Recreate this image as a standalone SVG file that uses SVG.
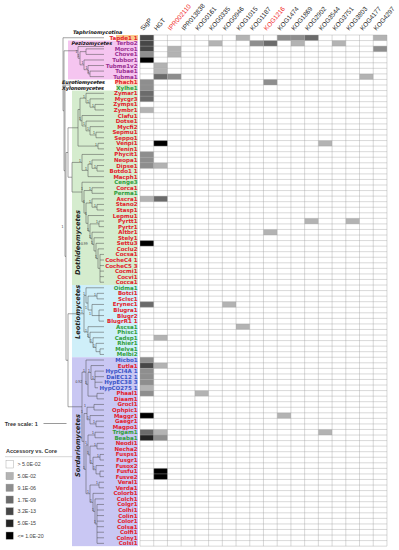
<svg xmlns="http://www.w3.org/2000/svg" width="399" height="550" viewBox="0 0 399 550">
<style>
text{font-family:"Liberation Sans",Arial,sans-serif}
.hd{font-size:6.5px;fill:#222}
.hr{fill:#f02828}
.lf{font-family:"DejaVu Sans",sans-serif;font-size:5.5px;font-weight:bold;text-anchor:end}
.r{fill:#e4202c}.g{fill:#2f9e3c}.b{fill:#3a55c8}.m{fill:#9a2e90}
.cl{font-family:"DejaVu Sans",sans-serif;font-size:4.9px;font-weight:bold;font-style:italic;fill:#111}
.vl{font-family:"DejaVu Sans",sans-serif;font-size:6.6px;font-weight:bold;font-style:italic;fill:#222}
.br{fill:none;stroke:#4a4a4a;stroke-width:0.5}
.sv{font-size:3.4px;fill:#333}
.s1{fill:#b3b3b3}.s2{fill:#8e8e8e}.s3{fill:#6b6b6b}.s4{fill:#474747}.s5{fill:#242424}.s6{fill:#000}
.gl{fill:none;stroke:#a0a0a0;stroke-width:0.4}
.lg{font-size:5.3px;fill:#444}
.lb{stroke:#999;stroke-width:0.4}
</style>
<rect width="399" height="550" fill="#fff"/>
<g id="bands">
<rect x="68" y="40.56" width="70" height="38.89" fill="#f5c5f0"/>
<rect x="72" y="90.56" width="66" height="194.46" fill="#d5ecce"/>
<rect x="72" y="285.02" width="66" height="72.23" fill="#cfeff9"/>
<rect x="72" y="357.25" width="66" height="188.9" fill="#c9c7f3"/>
<rect x="116" y="35" width="22" height="5.56" fill="#f9c98c"/>
<rect x="116" y="79.45" width="22" height="5.56" fill="#fbd8bc"/>
<rect x="116" y="85" width="22" height="5.56" fill="#d2ebc9"/>
</g>
<g id="class-labels">
<text class="cl" x="73" y="33.6">Taphrinomycotina</text>
<text class="cl" x="71.5" y="44.6">Pezizomycetes</text>
<text class="cl" x="62" y="84">Eurotiomycetes</text>
<text class="cl" x="62" y="89.6">Xylonomycetes</text>
<text class="vl" transform="translate(79.5 275) rotate(-90)">Dothideomycetes</text>
<text class="vl" transform="translate(79.5 339) rotate(-90)">Leotiomycetes</text>
<text class="vl" transform="translate(79.5 477) rotate(-90)">Sordariomycetes</text>
</g>
<g id="connectors">
<path class="br" d="M63 37.75V110.74M63 37.75H104M63 110.74H64
M64 50.78V170.69M64 50.78H78M64 170.69H65
M78 46.5V58.24M78 46.5H104M78 58.24H80
M80 51.64V64.84M80 51.64H86M80 64.84H84
M86 48.86V54.42M86 48.86H104M86 54.42H104
M84 59.97V69.7M84 59.97H104M84 69.7H88
M88 65.53V73.87M88 65.53H104M88 73.87H90
M90 71.09V76.64M90 71.09H104M90 76.64H104
M65 84.98V256.39M65 84.98H70M65 256.39H66
M70 82.2V87.75M70 82.2H104M70 87.75H104
M66 152.51V360.26M66 152.51H68M66 360.26H68
M68 127.78V177.23M68 127.78H78M68 177.23H72
M78 109.47V146.09M78 109.47H80M78 146.09H98
M80 98.18V120.75M80 98.18H86M80 120.75H82
M86 93.31V103.04M86 93.31H104M86 103.04H90
M90 98.87V107.2M90 98.87H104M90 107.2H95
M95 104.42V109.98M95 104.42H104M95 109.98H104
M82 115.53V125.96M82 115.53H104M82 125.96H86
M86 121.09V130.82M86 121.09H104M86 130.82H90
M90 126.65V134.98M90 126.65H104M90 134.98H96
M96 132.2V137.76M96 132.2H104M96 137.76H104
M98 143.31V148.87M98 143.31H104M98 148.87H104
M72 162.42V192.04M72 162.42H82M72 192.04H82
M82 154.43V170.4M82 154.43H104M82 170.4H88
M88 164.15V176.65M88 164.15H92M88 176.65H104
M92 159.98V168.32M92 159.98H104M92 168.32H97
M97 165.54V171.09M97 165.54H104M97 171.09H104
M82 182.21V201.86M82 182.21H104M82 201.86H84
M84 190.54V213.18M84 190.54H92M84 213.18H86
M92 187.76V193.32M92 187.76H104M92 193.32H104
M86 203.04V223.32M86 203.04H92M86 223.32H88
M92 198.87V207.21M92 198.87H104M92 207.21H97
M97 204.43V209.99M97 204.43H104M97 209.99H104
M88 215.54V231.09M88 215.54H104M88 231.09H90
M90 223.88V238.29M90 223.88H99M90 238.29H92
M99 221.1V226.65M99 221.1H104M99 226.65H104
M92 232.21V244.37M92 232.21H104M92 244.37H94
M94 237.77V250.96M94 237.77H104M94 250.96H96
M96 243.32V258.6M96 243.32H104M96 258.6H98
M98 248.88V268.32M98 248.88H104M98 268.32H100
M100 254.43V282.21M100 254.43H104M100 259.99H104M100 265.55H104M100 271.1H104M100 276.66H104M100 282.21H104
M68 313.74V406.78M68 313.74H84M68 406.78H82
M84 295.42V332.05M84 295.42H86M84 332.05H88
M86 287.77V303.06M86 287.77H104M86 303.06H88
M88 296.11V310M88 296.11H97M88 310H92
M97 293.33V298.88M97 293.33H104M97 298.88H104
M92 304.44V315.55M92 304.44H104M92 315.55H99
M99 309.99V321.11M99 309.99H104M99 315.55H104M99 321.11H104
M88 326.66V337.43M88 326.66H104M88 337.43H90
M90 332.22V342.64M90 332.22H104M90 342.64H93
M93 337.77V347.5M93 337.77H104M93 347.5H96
M96 343.33V351.67M96 343.33H104M96 351.67H100
M100 348.89V354.44M100 348.89H104M100 354.44H104
M82 372.16V441.39M82 372.16H86M82 441.39H84
M86 360V384.31M86 360H104M86 384.31H88
M88 372.5V396.11M88 372.5H91M88 396.11H97
M91 365.55V379.45M91 365.55H104M91 379.45H95
M95 371.11V387.78M95 371.11H104M95 376.67H104M95 382.22H102.5M95 387.78H98
M97 393.33V398.89M97 393.33H104M97 398.89H104
M84 413.48V469.3M84 413.48H87M84 469.3H86
M87 407.23V419.73M87 407.23H94M87 419.73H90
M94 404.45V410M94 404.45H104M94 410H104
M90 415.56V423.89M90 415.56H104M90 423.89H96
M96 421.11V426.67M96 421.11H104M96 426.67H104
M86 444.91V493.69M86 444.91H88M86 493.69H90
M88 435.01V454.8M88 435.01H95M88 454.8H90
M95 432.23V437.78M95 432.23H104M95 437.78H104
M90 446.12V463.48M90 446.12H97M90 463.48H93
M97 443.34V448.89M97 443.34H104M97 448.89H104
M93 457.23V469.73M93 457.23H100M93 469.73H96
M100 454.45V460.01M100 454.45H104M100 460.01H104
M96 465.56V473.9M96 465.56H104M96 473.9H100
M100 471.12V476.67M100 471.12H104M100 476.67H104
M90 485.01V502.37M90 485.01H99M90 502.37H93
M99 482.23V487.79M99 482.23H104M99 487.79H104
M93 493.34V511.4M93 493.34H104M93 511.4H95
M95 498.9V523.9M95 498.9H104M95 523.9H97
M97 504.45V543.35M97 504.45H104M97 510.01H104M97 515.57H104M97 521.12H104M97 526.68H104M97 532.23H104M97 537.79H104M97 543.35H104"/>
<g class="sv">
<text x="75.6" y="52.6">1</text><text x="77.6" y="57.4">1</text><text x="81.5" y="64">1</text><text x="85.5" y="69">1</text><text x="87.5" y="73">1</text>
<text x="83" y="97.5">1</text><text x="87" y="102.5">1</text><text x="92" y="106.5">1</text><text x="79" y="120">1</text><text x="83" y="125.3">1</text><text x="87" y="130">1</text><text x="93" y="134.3">1</text><text x="95" y="145.5">1</text>
<text x="79" y="161.8">1</text><text x="85" y="169.7">1</text><text x="89" y="163.5">1</text><text x="94" y="167.7">1</text><text x="81" y="190.3">1</text><text x="89" y="190">1</text><text x="83" y="202.5">1</text><text x="89" y="202.5">1</text><text x="94" y="206.5">1</text><text x="85" y="214.5">1</text><text x="87" y="230.5">1</text><text x="96" y="223.3">1</text><text x="89" y="237.7">1</text><text x="91" y="243.8">1</text><text x="81" y="244.5">0.99</text><text x="95" y="258">1</text><text x="61.5" y="228">1</text>
<text x="81" y="313">1</text><text x="83" y="294.8">1</text><text x="85" y="309.4">1</text><text x="94" y="295.5">1</text><text x="89" y="315">1</text><text x="85" y="331.5">1</text><text x="87" y="336.8">1</text><text x="90" y="342">1</text><text x="93" y="347">1</text>
<text x="75.5" y="383">0.92</text><text x="83" y="371.6">1</text><text x="85" y="383.7">1</text><text x="88" y="372">1</text><text x="92" y="378.8">1</text><text x="81" y="412.8">1</text><text x="84" y="406.6">1</text><text x="87" y="419">1</text><text x="93" y="423.3">1</text><text x="83" y="468.7">1</text><text x="85" y="444.3">1</text><text x="92" y="434.4">1</text><text x="87" y="454.2">1</text><text x="94" y="445.5">1</text><text x="90" y="462.9">1</text><text x="97" y="456.6">1</text><text x="93" y="469.1">1</text><text x="87" y="493">1</text><text x="96" y="484.4">1</text><text x="90" y="501.8">1</text><text x="92" y="510.8">1</text><text x="94" y="523.3">1</text>
</g>
</g>
<g id="leaves">
<g id="n0"><text class="lf r" x="137.5" y="39.75">Tapde1 1</text></g>
<g id="n1"><text class="lf m" x="137.5" y="45.31">Terbo2</text></g>
<g id="n2"><text class="lf m" x="137.5" y="50.86">Morco1</text></g>
<g id="n3"><text class="lf m" x="137.5" y="56.42">Chove1</text></g>
<g id="n4"><text class="lf m" x="137.5" y="61.97">Tubbor1</text></g>
<g id="n5"><text class="lf m" x="137.5" y="67.53">Tubme1v2</text></g>
<g id="n6"><text class="lf m" x="137.5" y="73.09">Tubae1</text></g>
<g id="n7"><text class="lf m" x="137.5" y="78.64">Tubma1</text></g>
<g id="n8"><text class="lf r" x="137.5" y="84.2">Phach1</text></g>
<g id="n9"><text class="lf g" x="137.5" y="89.75">Xylhe1</text></g>
<g id="n10"><text class="lf r" x="137.5" y="95.31">Zymar1</text></g>
<g id="n11"><text class="lf r" x="137.5" y="100.87">Mycgr3</text></g>
<g id="n12"><text class="lf r" x="137.5" y="106.42">Zymps1</text></g>
<g id="n13"><text class="lf r" x="137.5" y="111.98">Zymbr1</text></g>
<g id="n14"><text class="lf r" x="137.5" y="117.53">Clafu1</text></g>
<g id="n15"><text class="lf r" x="137.5" y="123.09">Dotse1</text></g>
<g id="n16"><text class="lf r" x="137.5" y="128.65">Mycfi2</text></g>
<g id="n17"><text class="lf r" x="137.5" y="134.2">Sepmu1</text></g>
<g id="n18"><text class="lf r" x="137.5" y="139.76">Seppo1</text></g>
<g id="n19"><text class="lf r" x="137.5" y="145.31">Venpi1</text></g>
<g id="n20"><text class="lf r" x="137.5" y="150.87">Venin1</text></g>
<g id="n21"><text class="lf r" x="137.5" y="156.43">Phycit1</text></g>
<g id="n22"><text class="lf r" x="137.5" y="161.98">Neopa1</text></g>
<g id="n23"><text class="lf r" x="137.5" y="167.54">Dipse1</text></g>
<g id="n24"><text class="lf r" x="137.5" y="173.09">Botdo1 1</text></g>
<g id="n25"><text class="lf r" x="137.5" y="178.65">Macph1</text></g>
<g id="n26"><text class="lf g" x="137.5" y="184.21">Cenge3</text></g>
<g id="n27"><text class="lf r" x="137.5" y="189.76">Corca1</text></g>
<g id="n28"><text class="lf g" x="137.5" y="195.32">Perma1</text></g>
<g id="n29"><text class="lf r" x="137.5" y="200.87">Ascra1</text></g>
<g id="n30"><text class="lf r" x="137.5" y="206.43">Stano2</text></g>
<g id="n31"><text class="lf r" x="137.5" y="211.99">Stasp1</text></g>
<g id="n32"><text class="lf r" x="137.5" y="217.54">Lepmu1</text></g>
<g id="n33"><text class="lf r" x="137.5" y="223.1">Pyrtt1</text></g>
<g id="n34"><text class="lf r" x="137.5" y="228.65">Pyrtr1</text></g>
<g id="n35"><text class="lf r" x="137.5" y="234.21">Altbr1</text></g>
<g id="n36"><text class="lf r" x="137.5" y="239.77">Stely1</text></g>
<g id="n37"><text class="lf r" x="137.5" y="245.32">Settu3</text></g>
<g id="n38"><text class="lf r" x="137.5" y="250.88">Coclu2</text></g>
<g id="n39"><text class="lf r" x="137.5" y="256.43">Cocsa1</text></g>
<g id="n40"><text class="lf r" x="137.5" y="261.99">CocheC4 1</text></g>
<g id="n41"><text class="lf r" x="137.5" y="267.55">CocheC5 3</text></g>
<g id="n42"><text class="lf r" x="137.5" y="273.1">Cocmi1</text></g>
<g id="n43"><text class="lf r" x="137.5" y="278.66">Cocvi1</text></g>
<g id="n44"><text class="lf r" x="137.5" y="284.21">Cocca1</text></g>
<g id="n45"><text class="lf g" x="137.5" y="289.77">Oidma1</text></g>
<g id="n46"><text class="lf r" x="137.5" y="295.33">Botci1</text></g>
<g id="n47"><text class="lf r" x="137.5" y="300.88">Sclsc1</text></g>
<g id="n48"><text class="lf r" x="137.5" y="306.44">Erynec1</text></g>
<g id="n49"><text class="lf r" x="137.5" y="311.99">Blugra1</text></g>
<g id="n50"><text class="lf r" x="137.5" y="317.55">Blugr2</text></g>
<g id="n51"><text class="lf r" x="137.5" y="323.11">BlugrR1 1</text></g>
<g id="n52"><text class="lf g" x="137.5" y="328.66">Ascsa1</text></g>
<g id="n53"><text class="lf g" x="137.5" y="334.22">Phisc1</text></g>
<g id="n54"><text class="lf g" x="137.5" y="339.77">Cadsp1</text></g>
<g id="n55"><text class="lf g" x="137.5" y="345.33">Rhier1</text></g>
<g id="n56"><text class="lf g" x="137.5" y="350.89">Melva1</text></g>
<g id="n57"><text class="lf g" x="137.5" y="356.44">Melbi2</text></g>
<g id="n58"><text class="lf b" x="137.5" y="362">Micbo1</text></g>
<g id="n59"><text class="lf r" x="137.5" y="367.55">Eutla1</text></g>
<g id="n60"><text class="lf b" x="137.5" y="373.11">HypCI4A 1</text></g>
<g id="n61"><text class="lf b" x="137.5" y="378.67">DalEC12 1</text></g>
<g id="n62"><text class="lf b" x="137.5" y="384.22">HypEC38 3</text></g>
<g id="n63"><text class="lf b" x="137.5" y="389.78">HypCO275 1</text></g>
<g id="n64"><text class="lf r" x="137.5" y="395.33">Phaal1</text></g>
<g id="n65"><text class="lf r" x="137.5" y="400.89">Diaam1</text></g>
<g id="n66"><text class="lf r" x="137.5" y="406.45">Grocl1</text></g>
<g id="n67"><text class="lf r" x="137.5" y="412">Ophpic1</text></g>
<g id="n68"><text class="lf r" x="137.5" y="417.56">Maggr1</text></g>
<g id="n69"><text class="lf r" x="137.5" y="423.11">Gaegr1</text></g>
<g id="n70"><text class="lf r" x="137.5" y="428.67">Magpo1</text></g>
<g id="n71"><text class="lf g" x="137.5" y="434.23">Trigam1</text></g>
<g id="n72"><text class="lf g" x="137.5" y="439.78">Beaba1</text></g>
<g id="n73"><text class="lf r" x="137.5" y="445.34">Neodi1</text></g>
<g id="n74"><text class="lf r" x="137.5" y="450.89">Necha2</text></g>
<g id="n75"><text class="lf r" x="137.5" y="456.45">Fusps1</text></g>
<g id="n76"><text class="lf r" x="137.5" y="462.01">Fusgr1</text></g>
<g id="n77"><text class="lf r" x="137.5" y="467.56">Fusox2</text></g>
<g id="n78"><text class="lf r" x="137.5" y="473.12">Fusfu1</text></g>
<g id="n79"><text class="lf r" x="137.5" y="478.67">Fusve2</text></g>
<g id="n80"><text class="lf r" x="137.5" y="484.23">Veral1</text></g>
<g id="n81"><text class="lf r" x="137.5" y="489.79">Verda1</text></g>
<g id="n82"><text class="lf r" x="137.5" y="495.34">Colorb1</text></g>
<g id="n83"><text class="lf r" x="137.5" y="500.9">Colch1</text></g>
<g id="n84"><text class="lf r" x="137.5" y="506.45">Colgr1</text></g>
<g id="n85"><text class="lf r" x="137.5" y="512.01">Colhi1</text></g>
<g id="n86"><text class="lf r" x="137.5" y="517.57">Colin1</text></g>
<g id="n87"><text class="lf r" x="137.5" y="523.12">Color1</text></g>
<g id="n88"><text class="lf r" x="137.5" y="528.68">Colsa1</text></g>
<g id="n89"><text class="lf r" x="137.5" y="534.23">Colfi1</text></g>
<g id="n90"><text class="lf r" x="137.5" y="539.79">Colny1</text></g>
<g id="n91"><text class="lf r" x="137.5" y="545.35">Colsi1</text></g>
</g>
<g id="header">
<text class="hd" transform="translate(143.36 31) rotate(-50)">SigP</text>
<text class="hd" transform="translate(157.08 31) rotate(-50)">HGT</text>
<text class="hd hr" transform="translate(170.8 31) rotate(-50)">IPR002110</text>
<text class="hd" transform="translate(184.52 31) rotate(-50)">IPR013838</text>
<text class="hd" transform="translate(198.24 31) rotate(-50)">KOG0161</text>
<text class="hd" transform="translate(211.96 31) rotate(-50)">KOG0335</text>
<text class="hd" transform="translate(225.68 31) rotate(-50)">KOG0946</text>
<text class="hd" transform="translate(239.4 31) rotate(-50)">KOG1015</text>
<text class="hd" transform="translate(253.12 31) rotate(-50)">KOG1187</text>
<text class="hd hr" transform="translate(266.84 31) rotate(-50)">KOG1216</text>
<text class="hd" transform="translate(280.56 31) rotate(-50)">KOG1474</text>
<text class="hd" transform="translate(294.28 31) rotate(-50)">KOG1869</text>
<text class="hd" transform="translate(308 31) rotate(-50)">KOG2902</text>
<text class="hd" transform="translate(321.72 31) rotate(-50)">KOG3544</text>
<text class="hd" transform="translate(335.44 31) rotate(-50)">KOG3751</text>
<text class="hd" transform="translate(349.16 31) rotate(-50)">KOG3803</text>
<text class="hd" transform="translate(362.88 31) rotate(-50)">KOG4177</text>
<text class="hd" transform="translate(376.6 31) rotate(-50)">KOG4297</text>
</g>
<g id="heatmap">
<rect x="140" y="35" width="246.96" height="511.15" fill="#fff"/>
<g>
<rect class="s4" x="140" y="35" width="13.72" height="5.56"/><rect class="s1" x="236.04" y="35" width="13.72" height="5.56"/><rect class="s2" x="277.2" y="35" width="13.72" height="5.56"/><rect class="s2" x="290.92" y="35" width="13.72" height="5.56"/><rect class="s3" x="304.64" y="35" width="13.72" height="5.56"/><rect class="s1" x="373.24" y="35" width="13.72" height="5.56"/>
<rect class="s4" x="140" y="40.56" width="13.72" height="5.56"/><rect class="s1" x="208.6" y="40.56" width="13.72" height="5.56"/><rect class="s2" x="249.76" y="40.56" width="13.72" height="5.56"/><rect class="s3" x="263.48" y="40.56" width="13.72" height="5.56"/><rect class="s1" x="290.92" y="40.56" width="13.72" height="5.56"/><rect class="s1" x="332.08" y="40.56" width="13.72" height="5.56"/>
<rect class="s4" x="140" y="46.11" width="13.72" height="5.56"/><rect class="s1" x="167.44" y="46.11" width="13.72" height="5.56"/><rect class="s2" x="373.24" y="46.11" width="13.72" height="5.56"/>
<rect class="s2" x="140" y="51.67" width="13.72" height="5.56"/><rect class="s1" x="167.44" y="51.67" width="13.72" height="5.56"/>
<rect class="s6" x="140" y="57.22" width="13.72" height="5.56"/>
<rect class="s1" x="153.72" y="62.78" width="13.72" height="5.56"/>
<rect class="s1" x="153.72" y="68.34" width="13.72" height="5.56"/>
<rect class="s3" x="153.72" y="73.89" width="13.72" height="5.56"/><rect class="s2" x="167.44" y="73.89" width="13.72" height="5.56"/><rect class="s1" x="359.52" y="73.89" width="13.72" height="5.56"/>
<rect class="s2" x="140" y="79.45" width="13.72" height="5.56"/><rect class="s2" x="263.48" y="79.45" width="13.72" height="5.56"/>
<rect class="s2" x="140" y="85" width="13.72" height="5.56"/>
<rect class="s3" x="140" y="90.56" width="13.72" height="5.56"/>
<rect class="s3" x="140" y="96.12" width="13.72" height="5.56"/>
<rect class="s1" x="140" y="107.23" width="13.72" height="5.56"/>
<rect class="s6" x="153.72" y="140.56" width="13.72" height="5.56"/><rect class="s1" x="318.36" y="140.56" width="13.72" height="5.56"/>
<rect class="s2" x="140" y="151.68" width="13.72" height="5.56"/><rect class="s2" x="140" y="157.23" width="13.72" height="5.56"/><rect class="s2" x="140" y="162.79" width="13.72" height="5.56"/><rect class="s1" x="153.72" y="162.79" width="13.72" height="5.56"/>
<rect class="s1" x="140" y="196.12" width="13.72" height="5.56"/><rect class="s3" x="153.72" y="196.12" width="13.72" height="5.56"/>
<rect class="s1" x="304.64" y="218.35" width="13.72" height="5.56"/><rect class="s1" x="345.8" y="218.35" width="13.72" height="5.56"/>
<rect class="s1" x="263.48" y="229.46" width="13.72" height="5.56"/>
<rect class="s6" x="140" y="240.57" width="13.72" height="5.56"/>
<rect class="s3" x="140" y="301.69" width="13.72" height="5.56"/><rect class="s1" x="222.32" y="301.69" width="13.72" height="5.56"/>
<rect class="s1" x="236.04" y="323.91" width="13.72" height="5.56"/>
<rect class="s1" x="153.72" y="335.02" width="13.72" height="5.56"/>
<rect class="s2" x="140" y="357.25" width="13.72" height="5.56"/><rect class="s4" x="140" y="362.8" width="13.72" height="5.56"/><rect class="s1" x="153.72" y="362.8" width="13.72" height="5.56"/>
<rect class="s2" x="140" y="368.36" width="13.72" height="5.56"/><rect class="s2" x="140" y="373.92" width="13.72" height="5.56"/><rect class="s2" x="140" y="379.47" width="13.72" height="5.56"/><rect class="s1" x="140" y="385.03" width="13.72" height="5.56"/>
<rect class="s2" x="140" y="390.58" width="13.72" height="5.56"/><rect class="s1" x="194.88" y="390.58" width="13.72" height="5.56"/>
<rect class="s6" x="140" y="412.81" width="13.72" height="5.56"/><rect class="s1" x="277.2" y="412.81" width="13.72" height="5.56"/>
<rect class="s3" x="140" y="429.48" width="13.72" height="5.56"/><rect class="s1" x="153.72" y="429.48" width="13.72" height="5.56"/><rect class="s1" x="318.36" y="429.48" width="13.72" height="5.56"/>
<rect class="s5" x="140" y="435.03" width="13.72" height="5.56"/><rect class="s2" x="153.72" y="435.03" width="13.72" height="5.56"/>
<rect class="s6" x="153.72" y="468.37" width="13.72" height="5.56"/><rect class="s6" x="153.72" y="473.92" width="13.72" height="5.56"/>
</g>
<path class="gl" d="M140 35H386.96M140 40.56H386.96M140 46.11H386.96M140 51.67H386.96M140 57.22H386.96M140 62.78H386.96M140 68.34H386.96M140 73.89H386.96M140 79.45H386.96M140 85H386.96M140 90.56H386.96M140 96.12H386.96M140 101.67H386.96M140 107.23H386.96M140 112.78H386.96M140 118.34H386.96M140 123.9H386.96M140 129.45H386.96M140 135.01H386.96M140 140.56H386.96M140 146.12H386.96M140 151.68H386.96M140 157.23H386.96M140 162.79H386.96M140 168.34H386.96M140 173.9H386.96M140 179.46H386.96M140 185.01H386.96M140 190.57H386.96M140 196.12H386.96M140 201.68H386.96M140 207.24H386.96M140 212.79H386.96M140 218.35H386.96M140 223.9H386.96M140 229.46H386.96M140 235.02H386.96M140 240.57H386.96M140 246.13H386.96M140 251.68H386.96M140 257.24H386.96M140 262.8H386.96M140 268.35H386.96M140 273.91H386.96M140 279.46H386.96M140 285.02H386.96M140 290.58H386.96M140 296.13H386.96M140 301.69H386.96M140 307.24H386.96M140 312.8H386.96M140 318.36H386.96M140 323.91H386.96M140 329.47H386.96M140 335.02H386.96M140 340.58H386.96M140 346.14H386.96M140 351.69H386.96M140 357.25H386.96M140 362.8H386.96M140 368.36H386.96M140 373.92H386.96M140 379.47H386.96M140 385.03H386.96M140 390.58H386.96M140 396.14H386.96M140 401.7H386.96M140 407.25H386.96M140 412.81H386.96M140 418.36H386.96M140 423.92H386.96M140 429.48H386.96M140 435.03H386.96M140 440.59H386.96M140 446.14H386.96M140 451.7H386.96M140 457.26H386.96M140 462.81H386.96M140 468.37H386.96M140 473.92H386.96M140 479.48H386.96M140 485.04H386.96M140 490.59H386.96M140 496.15H386.96M140 501.7H386.96M140 507.26H386.96M140 512.82H386.96M140 518.37H386.96M140 523.93H386.96M140 529.48H386.96M140 535.04H386.96M140 540.6H386.96M140 546.15H386.96
M140 35V546.15M153.72 35V546.15M167.44 35V546.15M181.16 35V546.15M194.88 35V546.15M208.6 35V546.15M222.32 35V546.15M236.04 35V546.15M249.76 35V546.15M263.48 35V546.15M277.2 35V546.15M290.92 35V546.15M304.64 35V546.15M318.36 35V546.15M332.08 35V546.15M345.8 35V546.15M359.52 35V546.15M373.24 35V546.15M386.96 35V546.15"/>
</g>
<g id="legend">
<text x="4.7" y="425.5" style="font-size:5.5px;font-weight:bold;fill:#333">Tree scale: 1</text>
<path d="M43.5 423.5H66.5" stroke="#555" stroke-width="0.6"/>
<text x="6" y="452.5" style="font-size:5.5px;font-weight:bold;fill:#333">Accessory vs. Core</text>
<path d="M5 456.7H73" stroke="#bbb" stroke-width="0.6"/>
<rect class="lb" x="6" y="460.7" width="7.3" height="7.3" fill="#fff"/><text class="lg" x="17.5" y="466.2">&gt; 5.0E-02</text>
<rect class="lb" x="6" y="472.4" width="7.3" height="7.3" fill="#b3b3b3"/><text class="lg" x="17.5" y="477.9">5.0E-02</text>
<rect class="lb" x="6" y="484.1" width="7.3" height="7.3" fill="#8e8e8e"/><text class="lg" x="17.5" y="489.6">9.1E-06</text>
<rect class="lb" x="6" y="496" width="7.3" height="7.3" fill="#6b6b6b"/><text class="lg" x="17.5" y="501.5">1.7E-09</text>
<rect class="lb" x="6" y="507.7" width="7.3" height="7.3" fill="#474747"/><text class="lg" x="17.5" y="513.2">3.2E-13</text>
<rect class="lb" x="6" y="519.7" width="7.3" height="7.3" fill="#242424"/><text class="lg" x="17.5" y="525.2">5.0E-15</text>
<rect class="lb" x="6" y="532" width="7.3" height="7.3" fill="#000"/><text class="lg" x="17.5" y="537.5">&lt;= 1.0E-20</text>
</g>
</svg>
